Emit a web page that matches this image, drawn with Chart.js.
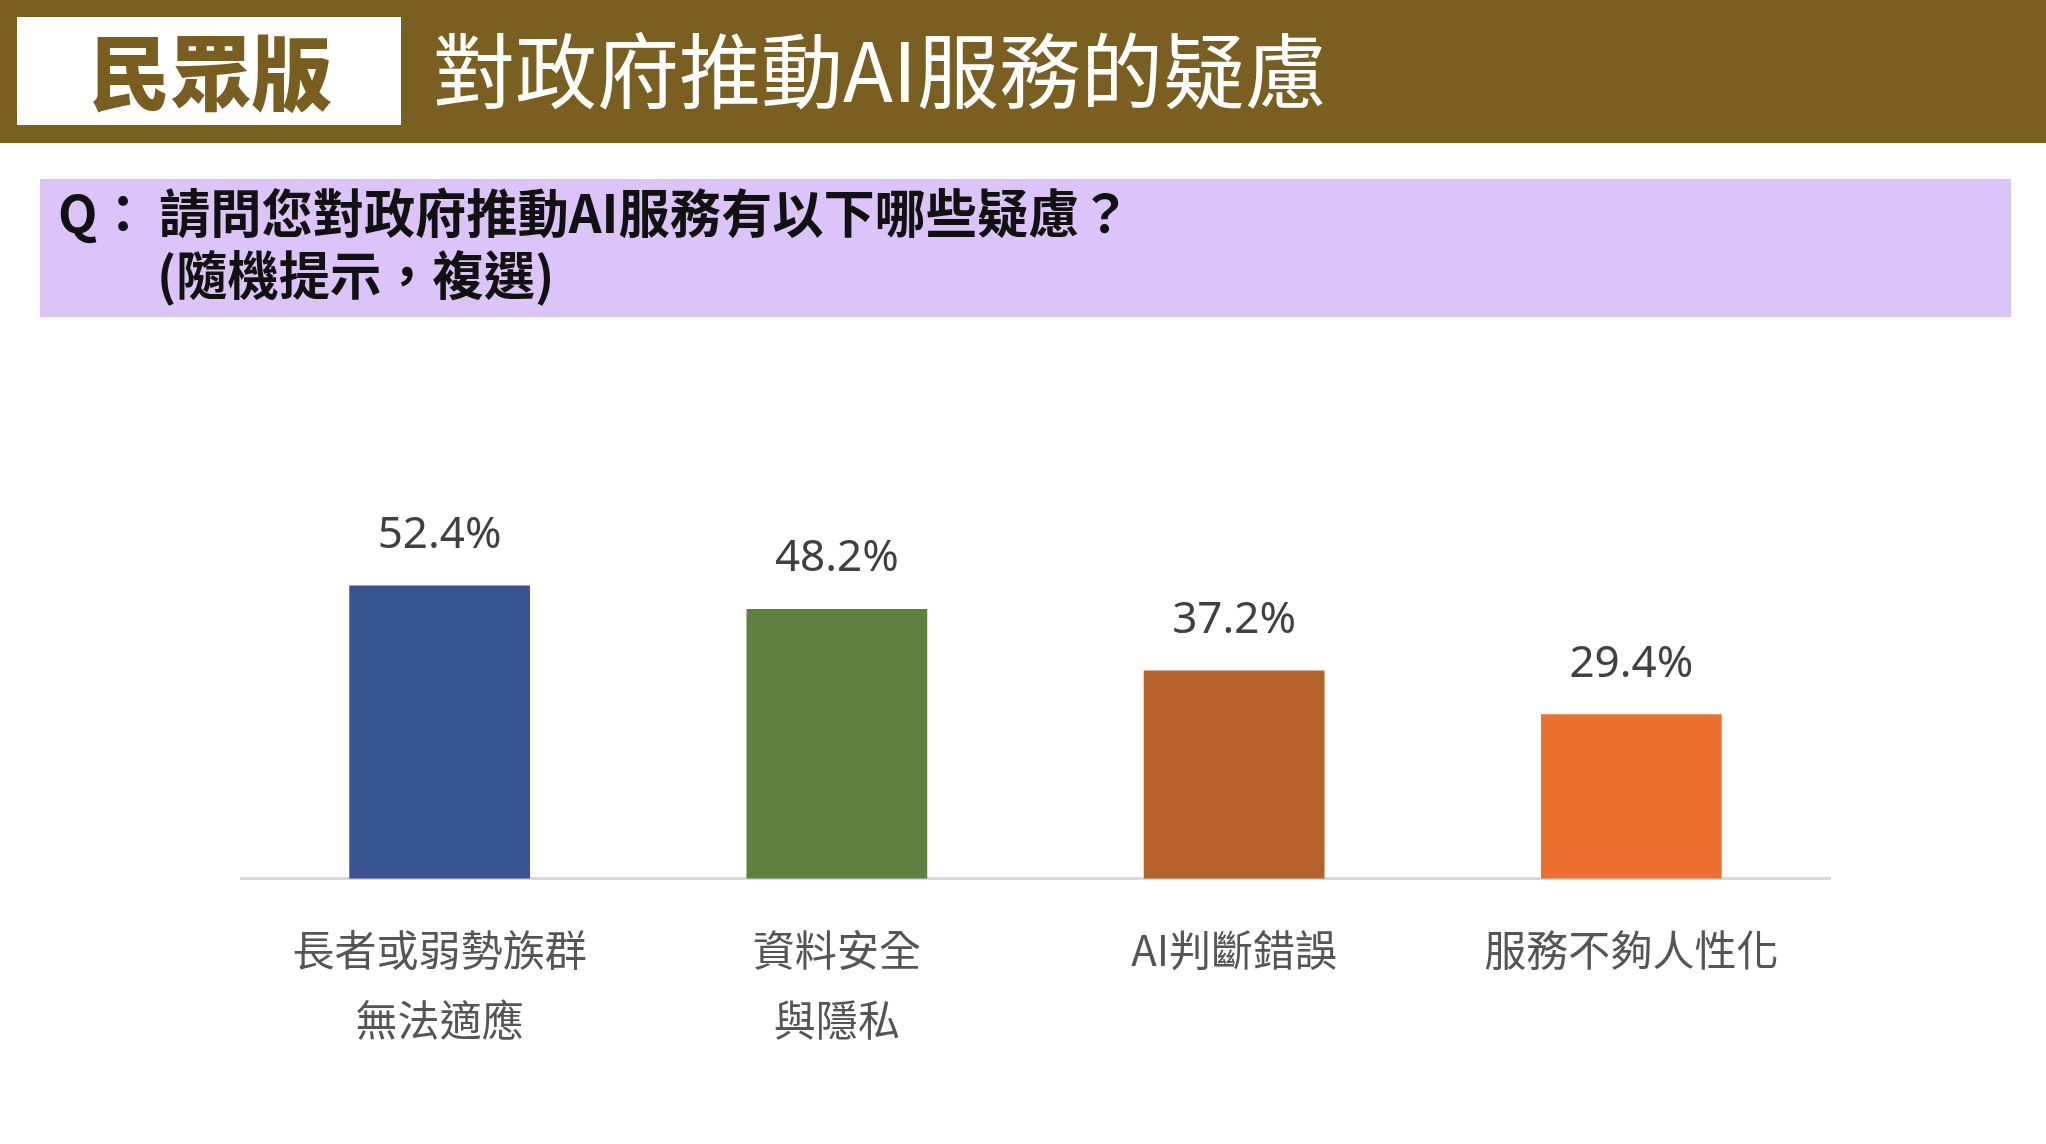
<!DOCTYPE html>
<html>
<head>
<meta charset="utf-8">
<script src="https://cdn.jsdelivr.net/npm/chart.js@4.4.1/dist/chart.umd.min.js"></script>
<style>
  html, body { margin:0; padding:0; width:2046px; height:1144px; background:#ffffff; overflow:hidden; }
  #wrap { position:absolute; left:0; top:0; width:2046px; height:1144px; }
  #chart { position:absolute; left:0; top:0; width:2046px; height:1144px; }
  .band { position:absolute; left:0; top:0; width:2046px; height:143px; background:#7B5F20; z-index:2; }
  .badge { position:absolute; left:17px; top:17px; width:384px; height:108px; background:#ffffff; z-index:3; }
  .badge span { position:absolute; left:72px; top:6px; font-family:"Noto Sans CJK TC","Noto Sans CJK SC",sans-serif; font-weight:900; font-size:82px; line-height:92px; color:#7A5E1F; transform:scaleX(0.99); transform-origin:left center; white-space:nowrap; }
  .title { position:absolute; left:433px; top:17px; font-family:"Noto Sans CJK TC","Noto Sans CJK SC",sans-serif; font-weight:400; font-size:82px; line-height:100px; color:#ffffff; white-space:nowrap; z-index:3; }
  .qbox { position:absolute; left:40px; top:179px; width:1971px; height:138px; background:#DCC4F9; z-index:2; }
  .q { position:absolute; font-family:"Noto Sans CJK TC","Noto Sans CJK SC",sans-serif; font-weight:700; font-size:52px; line-height:60px; color:#111111; white-space:nowrap; transform:scaleX(0.985); transform-origin:left center; z-index:3; }
</style>
</head>
<body>
<div id="wrap">
  <canvas id="chart" width="2046" height="1144"></canvas>
  <div class="band"></div>
  <div class="badge"><span>民眾版</span></div>
  <div class="title">對政府推動AI服務的疑慮</div>
  <div class="qbox"></div>
  <div class="q" style="left:58px; top:181px;">Q：</div>
  <div class="q" style="left:159px; top:181px;">請問您對政府推動AI服務有以下哪些疑慮？</div>
  <div class="q" style="left:157px; top:243px;">(隨機提示，複選)</div>
</div>
<script>
const categories = [
  ["長者或弱勢族群", "無法適應"],
  ["資料安全", "與隱私"],
  "AI判斷錯誤",
  "服務不夠人性化"
];
const values = [52.4, 48.2, 37.2, 29.4];
const barColors = ["#395591", "#5E813F", "#B6602A", "#EC7130"];

const valueLabels = {
  id: "valueLabels",
  afterDatasetsDraw(chart) {
    const ctx = chart.ctx;
    const meta = chart.getDatasetMeta(0);
    ctx.save();
    ctx.font = '44px "Noto Sans", sans-serif';
    ctx.fillStyle = "#404040";
    ctx.textAlign = "center";
    ctx.textBaseline = "middle";
    meta.data.forEach((bar, i) => {
      ctx.fillText(values[i].toFixed(1) + "%", bar.x, bar.y - 50);
    });
    ctx.restore();
  }
};

new Chart(document.getElementById("chart"), {
  type: "bar",
  data: {
    labels: categories,
    datasets: [{
      data: values,
      backgroundColor: barColors,
      borderWidth: 0,
      categoryPercentage: 1.0,
      barPercentage: 0.455
    }]
  },
  options: {
    responsive: false,
    animation: false,
    devicePixelRatio: 1,
    layout: { padding: { left: 241, right: 216, top: 319, bottom: 53 } },
    plugins: { legend: { display: false }, tooltip: { enabled: false } },
    scales: {
      y: { display: false, min: 0, max: 100 },
      x: {
        grid: { display: false, drawTicks: false },
        border: { display: true, color: "#D9D9D9", width: 3 },
        ticks: {
          color: "#555555",
          padding: 36,
          font: { family: '"Noto Sans CJK TC", "Noto Sans CJK SC", sans-serif', size: 42, lineHeight: 1.67 },
          maxRotation: 0,
          autoSkip: false
        }
      }
    }
  },
  plugins: [valueLabels]
});
</script>
</body>
</html>
